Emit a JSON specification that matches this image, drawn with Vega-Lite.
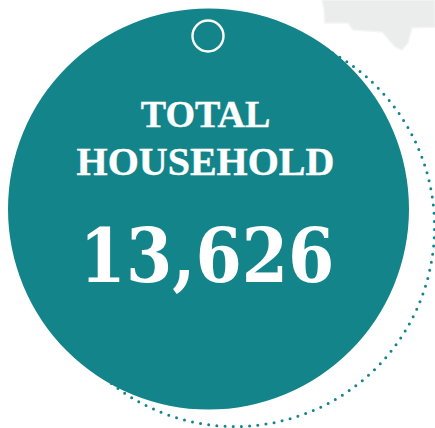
{
  "$schema": "https://vega.github.io/schema/vega-lite/v6.json",
  "width": 435, "height": 428, "padding": 0, "autosize": {"type": "none"},
  "background": "white",
  "config": {"view": {"stroke": null}},
  "datasets": {
    "stat": [{"line1": "TOTAL", "line2": "HOUSEHOLD", "households": 13626}],
    "land": [
      {"east": 322, "south": 0}, {"east": 324, "south": 10}, {"east": 324.5, "south": 23},
      {"east": 348, "south": 23}, {"east": 353, "south": 30}, {"east": 382, "south": 32},
      {"east": 395, "south": 47}, {"east": 402, "south": 50}, {"east": 408, "south": 43},
      {"east": 412, "south": 28}, {"east": 435, "south": 27}
    ]
  },
  "layer": [
    {
      "data": {"name": "land"},
      "mark": {"type": "area", "fill": "#ebecec", "stroke": "#f4f5f5", "strokeWidth": 1.5, "orient": "vertical"},
      "encoding": {
        "x": {"field": "east", "type": "quantitative", "scale": {"domain": [0, 435], "range": [0, 435]}, "axis": null},
        "y": {"field": "south", "type": "quantitative", "scale": {"domain": [0, 428], "range": [0, 428]}, "axis": null},
        "y2": {"datum": 0}
      }
    },
    {
      "data": {"name": "stat"},
      "mark": {"type": "arc", "radius": 199.5, "fillOpacity": 0, "stroke": "#13848a", "strokeWidth": 3, "strokeCap": "round", "strokeDash": [0, 8.22]},
      "encoding": {"x": {"value": 235}, "y": {"value": 227}, "theta": {"field": "households", "type": "quantitative", "stack": true, "scale": {"domain": [0, 13626], "range": [0, 6.2832]}}}
    },
    {
      "data": {"name": "stat"},
      "mark": {"type": "arc", "radius": 200.5, "fill": "#13848a"},
      "encoding": {"x": {"value": 208.5}, "y": {"value": 209}, "theta": {"field": "households", "type": "quantitative", "stack": true, "scale": {"domain": [0, 13626], "range": [0, 6.2832]}}}
    },
    {
      "data": {"name": "stat"},
      "mark": {"type": "arc", "radius": 15.5, "fillOpacity": 0, "stroke": "white", "strokeWidth": 2.4},
      "encoding": {"x": {"value": 208}, "y": {"value": 36}, "theta": {"field": "households", "type": "quantitative", "stack": true, "scale": {"domain": [0, 13626], "range": [0, 6.2832]}}}
    },
    {
      "data": {"name": "stat"},
      "mark": {"type": "text", "font": "Liberation Serif", "fontWeight": "bold", "fontSize": 38, "color": "white", "stroke": "white", "strokeWidth": 0.4, "align": "center", "baseline": "alphabetic"},
      "encoding": {"text": {"field": "line1"}, "x": {"value": 205.5}, "y": {"value": 127}}
    },
    {
      "data": {"name": "stat"},
      "mark": {"type": "text", "font": "Liberation Serif", "fontWeight": "bold", "fontSize": 40, "color": "white", "stroke": "white", "strokeWidth": 0.4, "align": "center", "baseline": "alphabetic"},
      "encoding": {"text": {"field": "line2"}, "x": {"value": 205.5}, "y": {"value": 175}}
    },
    {
      "data": {"name": "stat"},
      "mark": {"type": "text", "font": "DejaVu Serif Condensed", "fontWeight": "bold", "fontSize": 74, "color": "white", "align": "center", "baseline": "alphabetic"},
      "encoding": {"text": {"field": "households", "type": "quantitative", "format": ","}, "x": {"value": 207}, "y": {"value": 282}}
    }
  ]
}
